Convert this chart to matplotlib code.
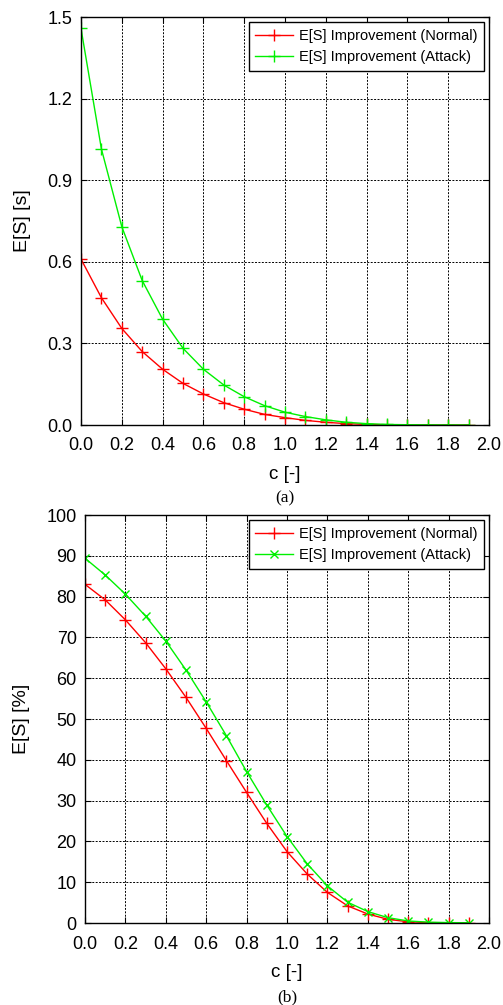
import matplotlib
matplotlib.use("Agg")
import matplotlib.pyplot as plt
from matplotlib.ticker import MultipleLocator

plt.rcParams['font.family'] = ['Liberation Sans', 'DejaVu Sans']

c = [0.0, 0.1, 0.2, 0.3, 0.4, 0.5, 0.6, 0.7, 0.8, 0.9, 1.0, 1.1, 1.2, 1.3, 1.4, 1.5, 1.6, 1.7, 1.8, 1.9]

es_normal = [0.61, 0.468, 0.355, 0.270, 0.205, 0.153, 0.114, 0.082, 0.058, 0.039, 0.027,
             0.017, 0.010, 0.005, 0.002, 0.001, 0.0005, 0.0002, 0.0001, 0.0]
es_attack = [1.458, 1.015, 0.729, 0.531, 0.389, 0.282, 0.205, 0.147, 0.104, 0.071, 0.047,
             0.031, 0.019, 0.010, 0.005, 0.002, 0.001, 0.0005, 0.0002, 0.0001]

pct_normal = [83.0, 79.2, 74.3, 68.7, 62.3, 55.3, 47.7, 39.8, 32.0, 24.4, 17.5,
              12.0, 7.5, 4.2, 2.2, 0.9, 0.3, 0.1, 0.05, 0.02]
pct_attack = [89.4, 85.3, 80.6, 75.2, 69.1, 62.0, 54.2, 45.9, 37.1, 28.9, 21.2,
              14.5, 9.1, 5.1, 2.8, 1.3, 0.5, 0.2, 0.1, 0.05]

label_normal = "E[S] Improvement (Normal)"
label_attack = "E[S] Improvement (Attack)"

RED = "#ff0000"
GREEN = "#00f000"

fig = plt.figure(figsize=(5.03, 10.05), dpi=100)
W, H = 503.0, 1005.0

def make_axes(left, top, right, bottom):
    return fig.add_axes([left / W, 1 - bottom / H, (right - left) / W, (bottom - top) / H])

def style(ax):
    ax.set_xlim(0, 2.0)
    ax.xaxis.set_major_locator(MultipleLocator(0.2))
    ax.xaxis.set_major_formatter(plt.FormatStrFormatter('%.1f'))
    ax.grid(True, color='black', linestyle=(0, (2, 1.5)), linewidth=0.7)
    ax.tick_params(direction='in', length=4, width=0.8, labelsize=13, top=True, right=True)
    ax.tick_params(axis='x', pad=9)
    ax.tick_params(axis='y', pad=6)
    for s in ax.spines.values():
        s.set_linewidth(1.0)
    ax.set_xlabel("c [-]", fontsize=13.5, labelpad=8)

def add_legend(ax):
    leg = ax.legend(loc='upper right', fontsize=10.5, frameon=True, fancybox=False,
                    edgecolor='black', framealpha=1, borderaxespad=0.35, handlelength=2.6,
                    handletextpad=0.4, borderpad=0.45, labelspacing=0.5)
    leg.get_frame().set_linewidth(1.0)

ax1 = make_axes(81, 17, 489, 425)
ax1.plot(c, es_normal, color=RED, marker='+', markersize=9, linewidth=1.0, label=label_normal)
ax1.plot(c, es_attack, color=GREEN, marker='+', markersize=9, linewidth=1.0, label=label_attack)
style(ax1)
ax1.set_ylim(0, 1.5)
ax1.yaxis.set_major_locator(MultipleLocator(0.3))
ax1.yaxis.set_major_formatter(plt.FormatStrFormatter('%.1f'))
ax1.set_ylabel("E[S] [s]", fontsize=14, labelpad=12)
add_legend(ax1)
fig.text(0.5 * (81 + 489) / W, 1 - 498 / H, "(a)", ha='center', va='center',
         fontsize=12.5, family=['Liberation Serif', 'DejaVu Serif'])

ax2 = make_axes(85, 515, 489, 923)
ax2.plot(c, pct_normal, color=RED, marker='+', markersize=9, linewidth=1.0, label=label_normal)
ax2.plot(c, pct_attack, color=GREEN, marker='x', markersize=6, linewidth=1.0, label=label_attack)
style(ax2)
ax2.set_ylim(0, 100)
ax2.yaxis.set_major_locator(MultipleLocator(10))
ax2.set_ylabel("E[S] [%]", fontsize=14, labelpad=12)
add_legend(ax2)
fig.text(0.5 * (85 + 489) / W, 1 - 997 / H, "(b)", ha='center', va='center',
         fontsize=12.5, family=['Liberation Serif', 'DejaVu Serif'])

fig.savefig("out.png", dpi=100)
